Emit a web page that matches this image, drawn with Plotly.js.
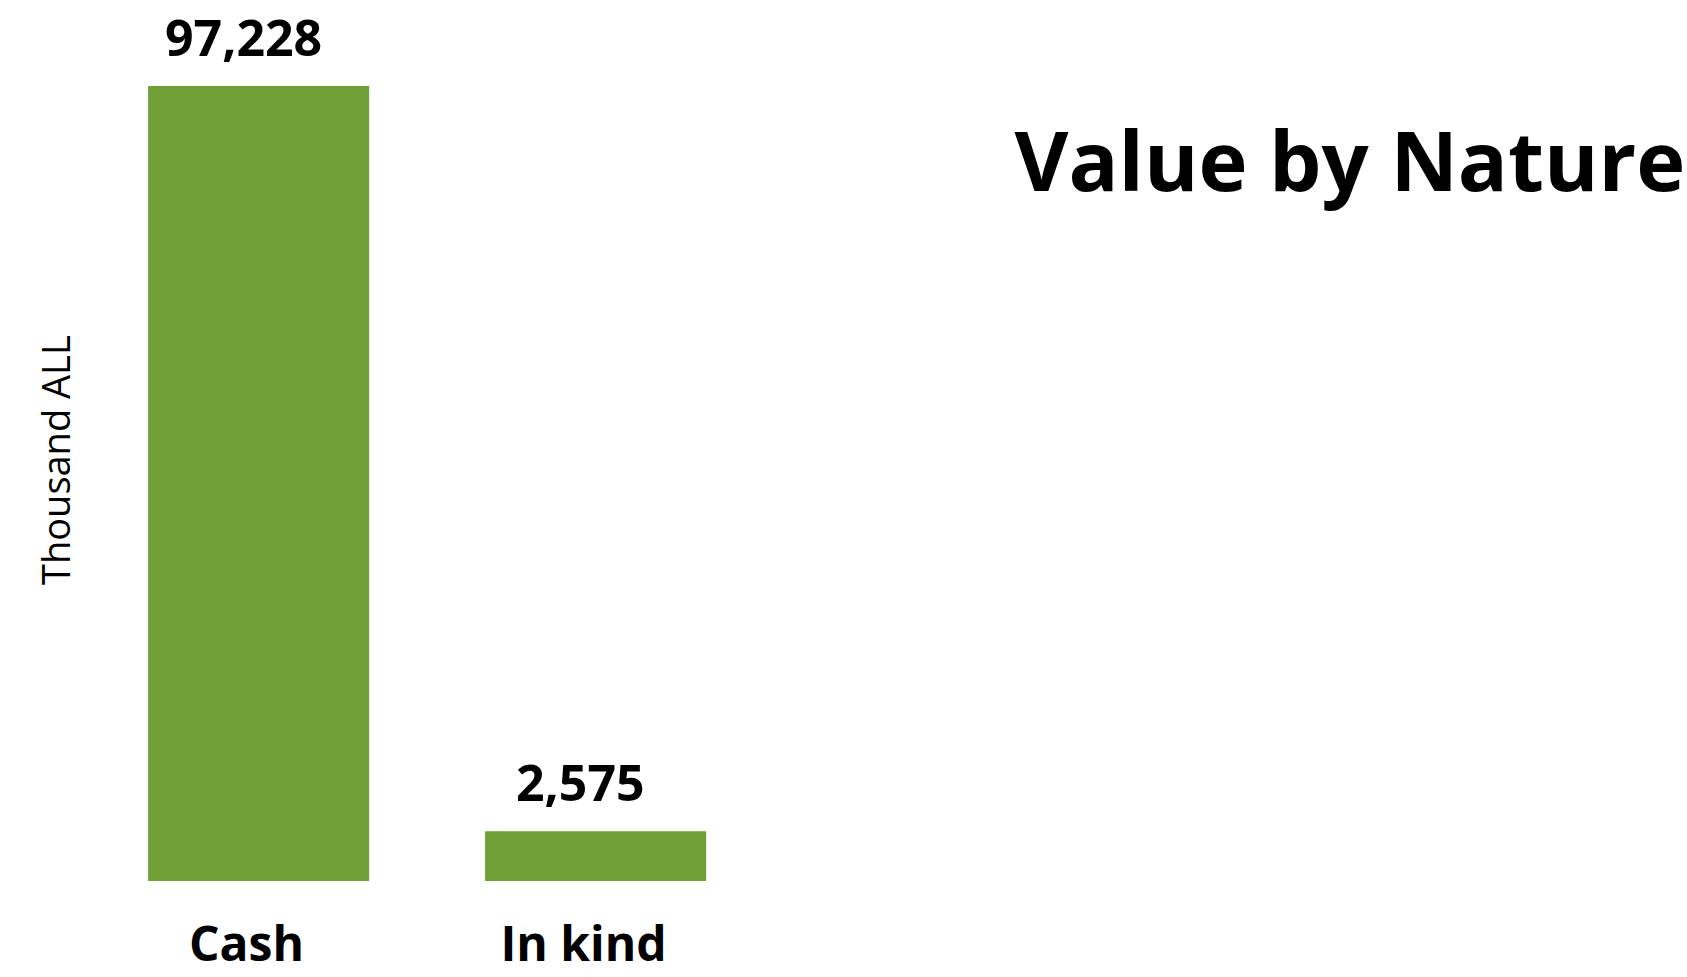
<!DOCTYPE html>
<html>
<head>
<meta charset="utf-8">
<script src="https://cdn.plot.ly/plotly-3.0.1.min.js"></script>
<style>
  html, body { margin: 0; padding: 0; background: #ffffff; }
  #chart { width: 1687px; height: 977px; }
</style>
</head>
<body>
<div id="chart"></div>
<script>
// Data
const categories = ["Cash", "In kind"];
const values = [97228, 2575];
const chartTitle = "Value by Nature";
const yAxisTitle = "Thousand ALL";

const barColor = "#70A037";
const fontFamily = "'Open Sans', 'DejaVu Sans', sans-serif";

const fmt = v => v.toLocaleString("en-US");

const trace = {
  type: "bar",
  x: categories,
  y: values,
  marker: { color: barColor },
  width: 0.656,
  offset: -0.292,
  hoverinfo: "skip"
};

const annotations = categories.map((c, i) => ({
  x: c,
  y: Math.log10(values[i]),
  xref: "x",
  yref: "y",
  text: "<b>" + fmt(values[i]) + "</b>",
  showarrow: false,
  xanchor: "center",
  yanchor: "middle",
  xshift: -3,
  yshift: 49,
  font: { family: fontFamily, size: 50, color: "#000000" }
}));

annotations.push({
  xref: "paper",
  yref: "paper",
  x: (55 - 100) / 1500,
  y: (977 - 96 - 460) / 795,
  xanchor: "center",
  yanchor: "middle",
  textangle: -90,
  text: yAxisTitle,
  showarrow: false,
  font: { family: fontFamily, size: 38, color: "#000000" }
});

const layout = {
  width: 1687,
  height: 977,
  paper_bgcolor: "#ffffff",
  plot_bgcolor: "#ffffff",
  margin: { l: 100, r: 87, t: 86, b: 96 },
  showlegend: false,
  title: {
    text: "<b>" + chartTitle + "</b>",
    xref: "container",
    yref: "container",
    x: 0.999,
    xanchor: "right",
    y: 1 - 162 / 977,
    yanchor: "middle",
    font: { family: fontFamily, size: 83, color: "#000000" }
  },
  xaxis: {
    type: "category",
    range: [-146.5 / 337, -146.5 / 337 + 1500 / 337],
    showgrid: false,
    zeroline: false,
    showline: false,
    ticks: "",
    ticklabelstandoff: 31,
    tickfont: { family: fontFamily, size: 48, color: "#000000", weight: "bold" }
  },
  yaxis: {
    type: "log",
    range: [3.3055, Math.log10(97228)],
    showgrid: false,
    zeroline: false,
    showline: false,
    showticklabels: false,
    ticks: ""
  },
  annotations: annotations
};

Plotly.newPlot("chart", [trace], layout, { staticPlot: true, displayModeBar: false });
</script>
</body>
</html>
